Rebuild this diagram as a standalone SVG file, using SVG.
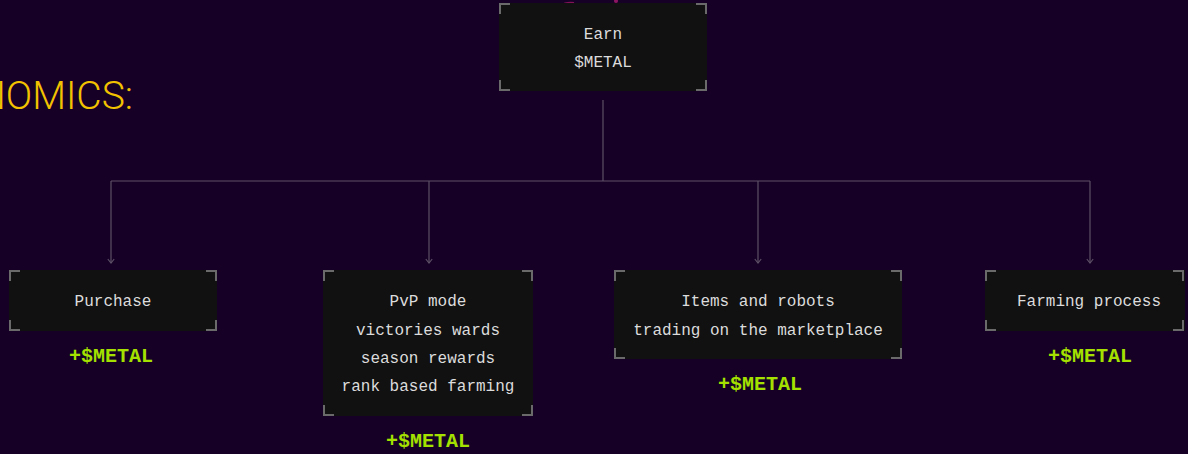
<svg xmlns="http://www.w3.org/2000/svg" width="1188" height="454" viewBox="0 0 1188 454">
<style>
.box{fill:#111111}
.br{fill:none;stroke:#6a6a6a;stroke-width:2}
.t{font-family:"Liberation Mono","DejaVu Sans Mono",monospace;font-size:16px;fill:#dcdcdc;text-anchor:middle}
.m{font-family:"Liberation Mono","DejaVu Sans Mono",monospace;font-size:20px;font-weight:bold;fill:#a4e000;text-anchor:middle}
.c{fill:none;stroke:#5e5066;stroke-width:1.2}
</style>
<defs>
<marker id="ah" viewBox="0 0 10 10" refX="8" refY="5" markerWidth="8" markerHeight="8" markerUnits="userSpaceOnUse" orient="auto">
<path d="M3,1 L8,5 L3,9" fill="none" stroke="#5e5066" stroke-width="1.4"/>
</marker>
</defs>
<rect width="1188" height="454" fill="#160026"/>
<g id="deco">
<path d="M560,6 q6,-4 14,-3" fill="none" stroke="#b0186e" stroke-width="2" opacity="0.7"/>
<circle cx="616" cy="1" r="2" fill="#c0207a" opacity="0.7"/>
</g>
<text x="133" y="109" font-family="Roboto,'Open Sans',sans-serif" font-weight="300" font-size="39" fill="#f2c200" text-anchor="end">NOMICS:</text>
<g id="connectors">
<path class="c" d="M603,100 V181"/>
<path class="c" d="M111,181 H1090"/>
<path class="c" d="M111,181 V263" marker-end="url(#ah)"/>
<path class="c" d="M429,181 V263" marker-end="url(#ah)"/>
<path class="c" d="M758,181 V263" marker-end="url(#ah)"/>
<path class="c" d="M1090,181 V263" marker-end="url(#ah)"/>
</g>
<g id="earn">
<rect class="box" x="499" y="3" width="208" height="88"/>
<path class="br" d="M500,14 V4 H510 M696,4 H706 V14 M706,80 V90 H696 M510,90 H500 V80"/>
<text class="t" x="603" y="39">Earn</text>
<text class="t" x="603" y="67">$METAL</text>
</g>
<g id="purchase">
<rect class="box" x="9" y="270" width="208" height="61"/>
<path class="br" d="M10,281 V271 H20 M206,271 H216 V281 M216,320 V330 H206 M20,330 H10 V320"/>
<text class="t" x="113" y="306">Purchase</text>
<text class="m" x="111" y="362">+$METAL</text>
</g>
<g id="pvp">
<rect class="box" x="323" y="270" width="210" height="146"/>
<path class="br" d="M324,281 V271 H334 M522,271 H532 V281 M532,405 V415 H522 M334,415 H324 V405"/>
<text class="t" x="428" y="306">PvP mode</text>
<text class="t" x="428" y="335">victories wards</text>
<text class="t" x="428" y="363">season rewards</text>
<text class="t" x="428" y="391">rank based farming</text>
<text class="m" x="428" y="447">+$METAL</text>
</g>
<g id="items">
<rect class="box" x="614" y="270" width="288" height="89"/>
<path class="br" d="M615,281 V271 H625 M891,271 H901 V281 M901,348 V358 H891 M625,358 H615 V348"/>
<text class="t" x="758" y="306">Items and robots</text>
<text class="t" x="758" y="335">trading on the marketplace</text>
<text class="m" x="760" y="390">+$METAL</text>
</g>
<g id="farming">
<rect class="box" x="985" y="270" width="200" height="61"/>
<path class="br" d="M986,281 V271 H996 M1173,271 H1183 V281 M1183,320 V330 H1173 M996,330 H986 V320"/>
<text class="t" x="1089" y="306">Farming process</text>
<text class="m" x="1090" y="362">+$METAL</text>
</g>
</svg>
